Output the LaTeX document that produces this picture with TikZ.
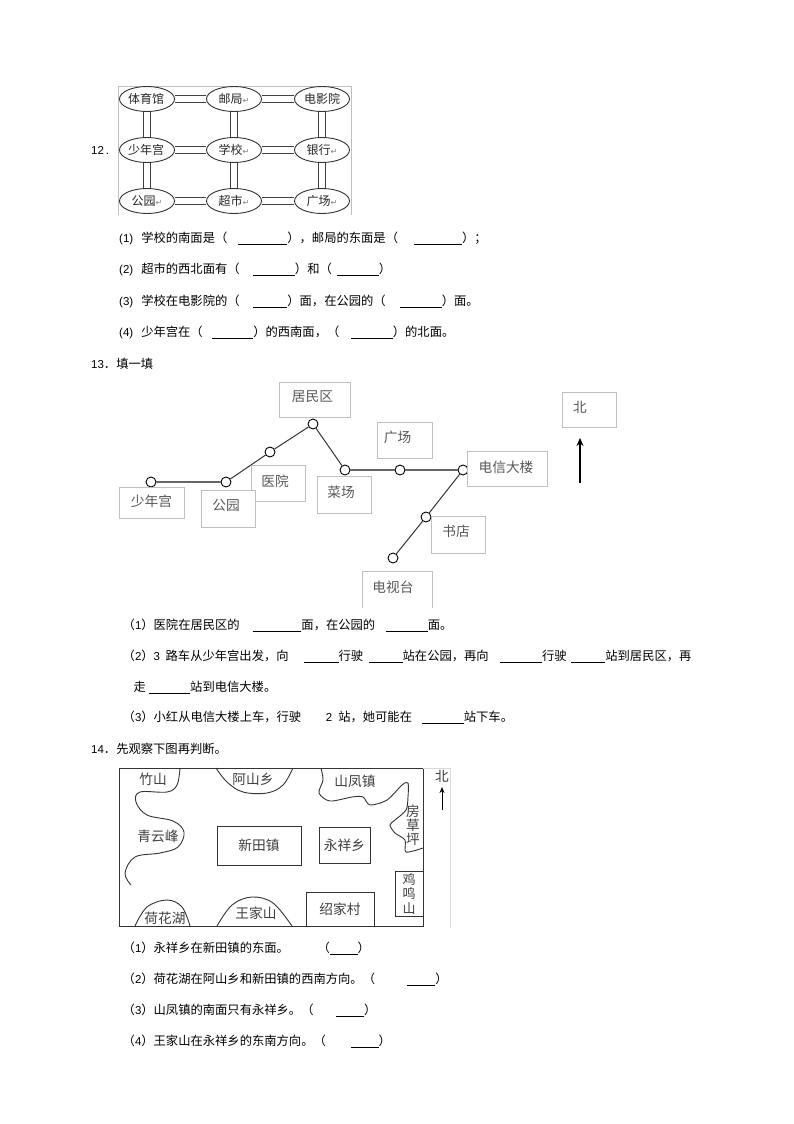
\documentclass[tikz,border=0pt]{standalone}
\usepackage{fontspec}
\setmainfont{Liberation Sans}
\newfontfamily\cjk{Noto Sans CJK SC}
\newfontfamily\symb{DejaVu Sans}
\usetikzlibrary{arrows.meta, positioning, shapes.geometric}
\newcommand{\blank}[1]{\rule[-2.8pt]{#1pt}{0.8pt}}
\newcommand{\num}[1]{{\fontspec{Liberation Sans}\fontsize{11.5pt}{12}\selectfont #1}}
\newcommand{\ret}{{\symb\fontsize{8pt}{8}\selectfont\color{gray}↵}}
\newcommand{\tick}{{\fontsize{6pt}{6}\selectfont\color{gray}.}}
\tikzstyle{line} = [anchor=west, inner sep=0pt, text height=10pt, text depth=1.5pt, font={\cjk\fontsize{12.3pt}{13}\selectfont}]
\tikzstyle{place} = [ellipse, minimum width=55pt, minimum height=25pt, inner sep=0pt, draw=black!80, line width=0.9pt, fill=white, font={\cjk\fontsize{12pt}{12}\selectfont}, text=black!85]
\tikzstyle{road} = [double, double distance=6pt, line width=1.1pt, draw=black!75]
\tikzstyle{stop} = [circle, minimum size=10pt, inner sep=0pt, draw=black, line width=0.9pt, fill=white]
\tikzstyle{sign} = [rectangle, draw=black!25, line width=0.9pt, fill=white, inner sep=0pt, font={\cjk\fontsize{13.7pt}{14}\selectfont}, text=black!65]
\tikzstyle{track} = [line width=1pt, draw=black!80]
\tikzstyle{mainline} = [line width=1.5pt, draw=black!60]
\tikzstyle{arrow} = [line width=1.3pt, draw=black, -{Stealth[length=8pt, width=7pt]}]
\tikzstyle{maptext} = [inner sep=0pt, font={\cjk\fontsize{13.7pt}{14}\selectfont}, text=black!75]
\tikzstyle{mapbox} = [rectangle, draw=black!80, line width=0.9pt, inner sep=0pt, font={\cjk\fontsize{13.7pt}{14}\selectfont}, text=black!75]
\tikzstyle{border} = [line width=0.9pt, draw=black!80]
\begin{document}
\begin{tikzpicture}[x=1pt, y=-1pt, node distance=87pt]
    \useasboundingbox (0,0) rectangle (794,1124);
    \fill [white] (0,0) rectangle (794,1124);

    % question 12
    \node (q12) [line] at (91,150) {\num{12\,.}};
    \draw [black!25] (118,215) -- (118,86) -- (351,86) -- (351,215);
    \node (tiyuguan) [place] at (147,99) {体育馆\tick};
    \node (youju) [place, right of=tiyuguan] {邮局\ret};
    \node (dianyingyuan) [place, right of=youju, xshift=1pt] {电影院};
    \node (shaoniangong) [place, below of=tiyuguan, node distance=51pt] {少年宫\tick};
    \node (xuexiao) [place, right of=shaoniangong] {学校\ret};
    \node (yinhang) [place, right of=xuexiao, xshift=1pt] {银行\ret};
    \node (gongyuan) [place, below of=shaoniangong, node distance=51pt] {公园\ret};
    \node (chaoshi) [place, right of=gongyuan] {超市\ret};
    \node (guangchang) [place, right of=chaoshi, xshift=1pt] {广场\ret};

    \draw [road] (tiyuguan) -- (youju);
    \draw [road] (youju) -- (dianyingyuan);
    \draw [road] (shaoniangong) -- (xuexiao);
    \draw [road] (xuexiao) -- (yinhang);
    \draw [road] (gongyuan) -- (chaoshi);
    \draw [road] (chaoshi) -- (guangchang);
    \draw [road] (tiyuguan) -- (shaoniangong);
    \draw [road] (shaoniangong) -- (gongyuan);
    \draw [road] (youju) -- (xuexiao);
    \draw [road] (xuexiao) -- (chaoshi);
    \draw [road] (dianyingyuan) -- (yinhang);
    \draw [road] (yinhang) -- (guangchang);

    \node (a1) [line] at (119,238) {\num{(1)}\hspace{8pt}学校的南面是（\hspace{11pt}\blank{49}），邮局的东面是（\hspace{16pt}\blank{48}）；};
    \node (a2) [line] at (119,269) {\num{(2)}\hspace{8pt}超市的西北面有（\hspace{13.7pt}\blank{41.6}）和（\hspace{5.5pt}\blank{41.6}）};
    \node (a3) [line] at (119,301) {\num{(3)}\hspace{8pt}学校在电影院的（\hspace{13.7pt}\blank{34}）面，在公园的（\hspace{14.3pt}\blank{41.7}）面。};
    \node (a4) [line] at (119,332) {\num{(4)}\hspace{8pt}少年宫在（\hspace{8.8pt}\blank{41.7}）的西南面，（\hspace{11.9pt}\blank{41.6}）的北面。};

    % question 13
    \node (q13) [line] at (91,364) {\num{13}．填一填};
    \node (s1) [stop] at (151,482) {};
    \node (s2) [stop] at (226,482) {};
    \node (s3) [stop] at (270,452) {};
    \node (s4) [stop] at (313,424) {};
    \node (s5) [stop] at (345,470) {};
    \node (s6) [stop] at (400,470) {};
    \node (s7) [stop] at (463,470) {};
    \node (s8) [stop] at (426,517) {};
    \node (s9) [stop] at (393,558) {};
    \draw [mainline] (s1) -- (s2);
    \draw [track] (s2) -- (s3);
    \draw [track] (s3) -- (s4);
    \draw [track] (s4) -- (s5);
    \draw [mainline] (s5) -- (s6);
    \draw [mainline] (s6) -- (s7);
    \draw [track] (s7) -- (s8);
    \draw [track] (s8) -- (s9);

    \node (b1) [sign, minimum width=65pt, minimum height=31pt] at (151.5,502.5) {\raisebox{4pt}{少年宫}};
    \node (b3) [sign, minimum width=54pt, minimum height=36pt] at (278,483) {\hspace{-6pt}\raisebox{5pt}{医院}};
    \node (b2) [sign, minimum width=54pt, minimum height=37pt] at (228,508.5) {\hspace{-4pt}\raisebox{7pt}{公园}};
    \node (b4) [sign, minimum width=71pt, minimum height=35pt] at (314.5,399.5) {\hspace{-4pt}\raisebox{6pt}{居民区}};
    \node (b5) [sign, minimum width=54pt, minimum height=37pt] at (344,494.5) {\hspace{-6pt}\raisebox{5pt}{菜场}};
    \node (b6) [sign, minimum width=55pt, minimum height=36pt] at (404.5,440) {\hspace{-14pt}\raisebox{7pt}{广场}};
    \node (b7) [sign, minimum width=80pt, minimum height=35pt] at (507,468.5) {\hspace{-2pt}\raisebox{4pt}{电信大楼}};
    \node (b8) [sign, minimum width=54pt, minimum height=37pt] at (458,534.5) {\hspace{-4pt}\raisebox{7pt}{书店}};
    \node (b9) [sign, minimum width=70pt, minimum height=37pt] at (397,589.5) {\hspace{-8pt}\raisebox{6pt}{电视台}};
    \fill [white] (355,608) rectangle (440,614);
    \node (b10) [sign, minimum width=54pt, minimum height=35pt] at (589,409.5) {\hspace{-18pt}\raisebox{5pt}{北}};
    \coordinate (n1) at (580,483);
    \coordinate (n2) at (580,438);
    \draw [arrow] (n1) -- (n2);

    \node (c1) [line] at (122.5,625) {（\num{1}）医院在居民区的\hspace{13pt}\blank{48.7}面，在公园的\hspace{10.9pt}\blank{41.6}面。};
    \node (c2) [line] at (122.5,656) {（\num{2}）\num{3}\hspace{5.6pt}路车从少年宫出发，向\hspace{15.7pt}\blank{34.3}行驶\hspace{5.4pt}\blank{34}站在公园，再向\hspace{11.6pt}\blank{41.7}行驶\hspace{4.4pt}\blank{34.3}站到居民区，再};
    \node (c3) [line] at (133.3,687) {走\hspace{2.7pt}\blank{41.7}站到电信大楼。};
    \node (c4) [line] at (122.5,717) {（\num{3}）小红从电信大楼上车，行驶\hspace{24.7pt}\num{2}\hspace{5.9pt}站，她可能在\hspace{9.8pt}\blank{42}站下车。};

    % question 14
    \node (q14) [line] at (91,749) {\num{14}．先观察下图再判断。};
    \node (frame) [rectangle, draw=black!80, line width=0.9pt, minimum width=304pt, minimum height=158pt, inner sep=0pt] at (271,847) {};
    \draw [black!15] (423,768) -- (450,768) -- (450,928);

    \draw [border] plot [smooth, tension=0.6] coordinates {(180,768) (177,785) (167,792) (140,792) (136,802) (147,815) (173,821) (184,832) (178,847) (160,853) (135,857) (125,873) (131,885)};
    \draw [border] plot [smooth, tension=0.6] coordinates {(216,768) (227,782) (243,792) (267,793) (283,785) (293,768)};
    \draw [border] plot [smooth, tension=0.5] coordinates {(321,768) (323,780) (319,793) (330,801) (352,797) (363,797) (370,805) (387,800) (402,785) (408,783) (408,797) (406,810) (395,820) (390,825) (395,833) (405,840) (406,852) (423,848)};
    \draw [border] plot [smooth, tension=0.6] coordinates {(135,926) (147,907) (167,900) (182,907) (190,926)};
    \draw [border] plot [smooth, tension=0.6] coordinates {(217,926) (232,905) (252,897) (273,903) (292,926)};

    \node (zhushan) [maptext] at (153,779) {竹山};
    \node (ashan) [maptext] at (253,779) {阿山乡};
    \node (shanfeng) [maptext] at (355,781) {山凤镇};
    \node (qingyun) [maptext] at (158,836) {青云峰};
    \node (hehua) [maptext] at (165,918) {荷花湖};
    \node (wangjia) [maptext] at (256,913) {王家山};
    \node (fangcao) [maptext, text width=14pt, align=center] at (413,825) {房\\草\\坪};
    \node (xintian) [mapbox, minimum width=84pt, minimum height=39pt] at (259,845.5) {新田镇};
    \node (yongxiang) [mapbox, minimum width=51pt, minimum height=36pt] at (344.5,845) {永祥乡};
    \node (shaojia) [mapbox, minimum width=68pt, minimum height=34pt] at (340,909) {绍家村};
    \node (jiming) [mapbox, minimum width=28pt, minimum height=45pt, text width=14pt, align=center, font={\cjk\fontsize{13pt}{14.5}\selectfont}] at (409,893.5) {鸡\\鸣\\山};
    \node (bei) [maptext] at (442,776) {北};
    \coordinate (n3) at (442,810);
    \coordinate (n4) at (442,787);
    \draw [line width=0.8pt, -{Stealth[length=6pt, width=5pt]}] (n3) -- (n4);

    \node (d1) [line] at (122.5,948) {（\num{1}）永祥乡在新田镇的东面。\hspace{28.6pt}（\blank{27.7}）};
    \node (d2) [line] at (122.5,979) {（\num{2}）荷花湖在阿山乡和新田镇的西南方向。（\hspace{32.3pt}\blank{28}）};
    \node (d3) [line] at (122.5,1010) {（\num{3}）山凤镇的南面只有永祥乡。（\hspace{22.8pt}\blank{27.7}）};
    \node (d4) [line] at (122.5,1041) {（\num{4}）王家山在永祥乡的东南方向。（\hspace{25.5pt}\blank{27.3}）};
\end{tikzpicture}
\end{document}
